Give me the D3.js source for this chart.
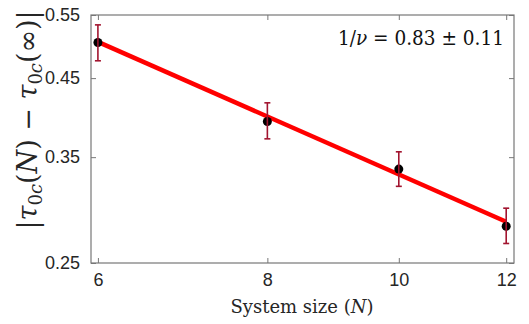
<!DOCTYPE html>
<html>
<head>
<meta charset="utf-8">
<script src="https://cdn.jsdelivr.net/npm/d3@7"></script>
<style>
  body { margin: 0; background: #fff; }
  svg { display: block; }
</style>
</head>
<body>
<div id="chart"></div>
<script>
// data
const sizes = [6, 8, 10, 12]
const gapValues = [0.504, 0.392, 0.337, 0.281]
const errLow = [0.4755, 0.371, 0.319, 0.266]
const errHigh = [0.533, 0.416, 0.356, 0.2976]
const fitSizes = [6, 12]
const fitValues = [0.505, 0.285]
const xTicks = [6, 8, 10, 12]
const yTicks = [0.25, 0.35, 0.45, 0.55]

const width = 529, height = 324
const margin = {top: 15, right: 15, bottom: 61, left: 91}

const svg = d3.select('#chart').append('svg')
  .attr('width', width)
  .attr('height', height)

const x = d3.scaleLog().domain([5.93, 12.16]).range([margin.left, width - margin.right])
const y = d3.scaleLog().domain([0.25, 0.55]).range([height - margin.bottom, margin.top])

const axisColor = '#777'
const tickFont = '"Liberation Sans", Arial, sans-serif'

// box
svg.append('rect')
  .attr('x', margin.left).attr('y', margin.top)
  .attr('width', width - margin.left - margin.right)
  .attr('height', height - margin.top - margin.bottom)
  .attr('fill', 'none').attr('stroke', axisColor).attr('stroke-width', 1.2)

const styleAxis = g => {
  g.select('.domain').remove()
  g.selectAll('.tick line').attr('stroke', axisColor).attr('stroke-width', 1)
  g.selectAll('.tick text').attr('fill', '#262626')
    .style('font-family', tickFont).style('font-size', '18px')
}

svg.append('g')
  .attr('transform', `translate(0,${height - margin.bottom})`)
  .call(d3.axisBottom(x).tickValues(xTicks).tickFormat(d3.format('d')).tickSizeInner(-5).tickPadding(10))
  .call(styleAxis)

svg.append('g')
  .attr('transform', `translate(0,${margin.top})`)
  .call(d3.axisTop(x).tickValues(xTicks).tickFormat('').tickSizeInner(-5))
  .call(styleAxis)

svg.append('g')
  .attr('transform', `translate(${margin.left},0)`)
  .call(d3.axisLeft(y).tickValues(yTicks).tickFormat(d3.format('.2f')).tickSizeInner(-5).tickPadding(11))
  .call(styleAxis)

svg.append('g')
  .attr('transform', `translate(${width - margin.right},0)`)
  .call(d3.axisRight(y).tickValues(yTicks).tickFormat('').tickSizeInner(-5))
  .call(styleAxis)

// fit line
svg.append('path')
  .datum(fitSizes.map((n, i) => [n, fitValues[i]]))
  .attr('fill', 'none')
  .attr('stroke', '#ff0000')
  .attr('stroke-width', 4.5)
  .attr('d', d3.line().x(d => x(d[0])).y(d => y(d[1])))

// markers (drawn under the error bars, like the original)
svg.selectAll('.dot')
  .data(sizes)
  .enter().append('circle')
    .attr('class', 'dot')
    .attr('cx', d => x(d))
    .attr('cy', (d, i) => y(gapValues[i]))
    .attr('r', 4.5)
    .attr('fill', '#000')

// error bars
const errColor = '#a2142f'
const bars = svg.selectAll('.err')
  .data(sizes)
  .enter().append('g')
    .attr('class', 'err')
    .attr('stroke', errColor)
    .attr('stroke-width', 1.6)

bars.append('line')
  .attr('x1', d => x(d)).attr('x2', d => x(d))
  .attr('y1', (d, i) => y(errLow[i])).attr('y2', (d, i) => y(errHigh[i]))
bars.append('line')
  .attr('x1', d => x(d) - 3).attr('x2', d => x(d) + 3)
  .attr('y1', (d, i) => y(errLow[i])).attr('y2', (d, i) => y(errLow[i]))
bars.append('line')
  .attr('x1', d => x(d) - 3).attr('x2', d => x(d) + 3)
  .attr('y1', (d, i) => y(errHigh[i])).attr('y2', (d, i) => y(errHigh[i]))

const serif = '"DejaVu Serif", serif'

// x label
const xl = svg.append('text')
  .attr('x', 302).attr('y', 313)
  .attr('text-anchor', 'middle')
  .style('font-family', serif).style('font-size', '18px').attr('fill', '#262626')
xl.append('tspan').text('System size (')
xl.append('tspan').style('font-style', 'italic').text('N')
xl.append('tspan').text(')')

// y label
const yl = svg.append('text')
  .attr('transform', 'translate(37,120) rotate(-90)')
  .attr('text-anchor', 'middle')
  .style('font-family', serif).style('font-size', '27px').attr('fill', '#262626')
yl.append('tspan').text('|')
yl.append('tspan').style('font-style', 'italic').text('τ')
yl.append('tspan').attr('dy', 5).style('font-size', '18px').text('0')
yl.append('tspan').style('font-size', '18px').style('font-style', 'italic').text('c')
yl.append('tspan').attr('dy', -5).text('(')
yl.append('tspan').style('font-style', 'italic').text('N')
yl.append('tspan').text(') − ')
yl.append('tspan').style('font-style', 'italic').text('τ')
yl.append('tspan').attr('dy', 5).style('font-size', '18px').text('0')
yl.append('tspan').style('font-size', '18px').style('font-style', 'italic').text('c')
yl.append('tspan').attr('dy', -5).text('(∞)|')

// annotation
const ann = svg.append('text')
  .attr('x', 504).attr('y', 45)
  .attr('text-anchor', 'end')
  .style('font-family', serif).style('font-size', '20px').attr('fill', '#111')
  .attr('textLength', 166).attr('lengthAdjust', 'spacingAndGlyphs')
ann.append('tspan').text('1/')
ann.append('tspan').style('font-style', 'italic').text('ν')
ann.append('tspan').text(' = 0.83 ± 0.11')
</script>
</body>
</html>
